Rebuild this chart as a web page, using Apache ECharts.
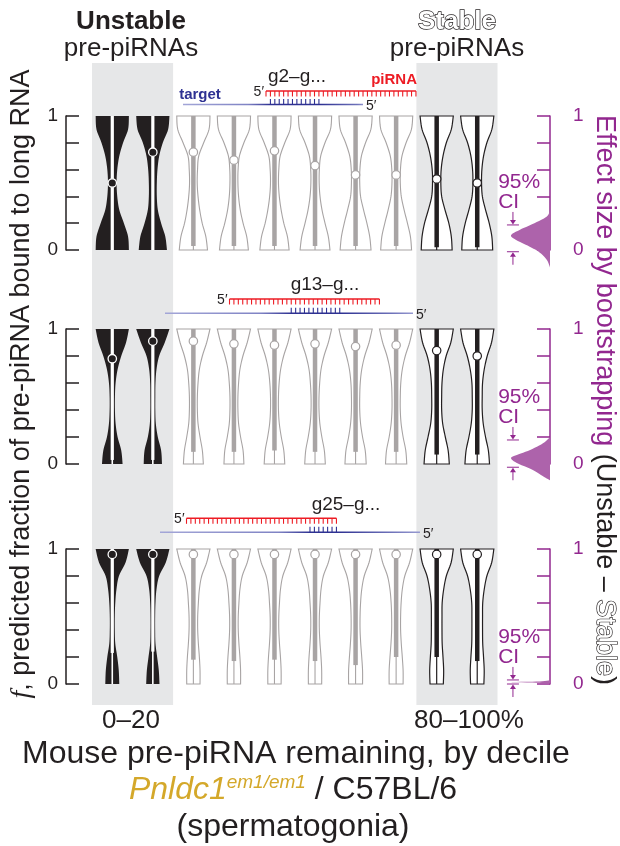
<!DOCTYPE html>
<html>
<head>
<meta charset="utf-8">
<script src="https://cdn.jsdelivr.net/npm/echarts@6/dist/echarts.min.js"></script>
<style>
html, body { margin: 0; padding: 0; background: #fff; }
#chart { width: 620px; height: 846px; }
</style>
</head>
<body>
<div id="chart"></div>
<script>
// ---- data ----
var deciles = ['0–10', '10–20', '20–30', '30–40', '40–50', '50–60', '60–70', '70–80', '80–90', '90–100'];
var groups = ['unstable', 'unstable', 'middle', 'middle', 'middle', 'middle', 'middle', 'middle', 'stable', 'stable'];
var panelLabels = ['g2–g...', 'g13–g...', 'g25–g...'];
// f levels where the violin widths were read (0 -> 1)
var levels = [0, 0.1, 0.2, 0.3, 0.4, 0.5, 0.6, 0.7, 0.8, 0.9, 1];

// g2 panel
var g2Median = [0.50, 0.73, 0.73, 0.67, 0.74, 0.63, 0.56, 0.56, 0.53, 0.50];
var g2Q1 = [0.00, 0.00, 0.03, 0.03, 0.03, 0.03, 0.03, 0.03, 0.02, 0.02];
var g2Q3 = [1, 1, 1, 1, 1, 1, 1, 1, 1, 1];
var g2Width = [
  [1.00, 0.95, 0.70, 0.42, 0.30, 0.26, 0.30, 0.42, 0.65, 0.95, 1.00],
  [0.85, 0.75, 0.50, 0.30, 0.24, 0.24, 0.28, 0.38, 0.60, 0.92, 1.00],
  [0.85, 0.75, 0.53, 0.38, 0.28, 0.23, 0.25, 0.32, 0.62, 0.94, 1.00],
  [0.87, 0.77, 0.55, 0.38, 0.28, 0.24, 0.25, 0.33, 0.60, 0.93, 1.00],
  [0.88, 0.78, 0.56, 0.40, 0.29, 0.24, 0.26, 0.34, 0.62, 0.94, 1.00],
  [0.90, 0.80, 0.60, 0.42, 0.30, 0.25, 0.26, 0.34, 0.60, 0.93, 1.00],
  [0.93, 0.85, 0.68, 0.48, 0.30, 0.25, 0.26, 0.35, 0.60, 0.92, 1.00],
  [0.93, 0.86, 0.68, 0.48, 0.31, 0.25, 0.26, 0.35, 0.60, 0.92, 1.00],
  [0.93, 0.88, 0.73, 0.50, 0.30, 0.25, 0.27, 0.38, 0.58, 0.88, 1.00],
  [0.93, 0.88, 0.72, 0.50, 0.31, 0.26, 0.28, 0.38, 0.58, 0.88, 1.00]
];
var g2EffectF = [0.30, 0.25, 0.20, 0.15, 0.11, 0.075, 0.025, -0.02, -0.075, -0.13];
var g2EffectDensity = [0, 0.08, 0.40, 0.78, 1.00, 0.87, 0.52, 0.26, 0.08, 0];
var g2CI = [-0.013, 0.187];

// g13 panel
var g13Median = [0.78, 0.91, 0.91, 0.89, 0.88, 0.89, 0.87, 0.88, 0.84, 0.80];
var g13Q1 = [0.03, 0.03, 0.09, 0.09, 0.10, 0.09, 0.09, 0.09, 0.07, 0.07];
var g13Q3 = [1, 1, 1, 1, 1, 1, 1, 1, 1, 1];
var g13Width = [
  [0.62, 0.54, 0.32, 0.20, 0.16, 0.16, 0.20, 0.32, 0.54, 0.83, 1.00],
  [0.55, 0.50, 0.30, 0.18, 0.15, 0.15, 0.16, 0.22, 0.38, 0.72, 1.00],
  [0.60, 0.54, 0.40, 0.28, 0.24, 0.24, 0.28, 0.36, 0.54, 0.80, 1.00],
  [0.60, 0.55, 0.40, 0.28, 0.24, 0.24, 0.28, 0.36, 0.54, 0.80, 1.00],
  [0.62, 0.56, 0.41, 0.29, 0.24, 0.24, 0.28, 0.37, 0.55, 0.81, 1.00],
  [0.62, 0.56, 0.41, 0.29, 0.24, 0.24, 0.28, 0.36, 0.54, 0.80, 1.00],
  [0.64, 0.58, 0.42, 0.30, 0.25, 0.25, 0.28, 0.37, 0.55, 0.81, 1.00],
  [0.64, 0.58, 0.42, 0.30, 0.25, 0.25, 0.28, 0.37, 0.55, 0.81, 1.00],
  [0.76, 0.69, 0.52, 0.36, 0.30, 0.30, 0.32, 0.40, 0.57, 0.85, 1.00],
  [0.74, 0.67, 0.50, 0.36, 0.30, 0.30, 0.32, 0.42, 0.60, 0.86, 1.00]
];
var g13EffectF = [0.20, 0.153, 0.104, 0.067, 0.044, 0.007, -0.044, -0.096, -0.12];
var g13EffectDensity = [0, 0.18, 0.51, 0.85, 1.00, 0.85, 0.44, 0.15, 0];
var g13CI = [-0.024, 0.178];

// g25 panel
var g25Median = [0.96, 0.96, 0.96, 0.96, 0.96, 0.96, 0.96, 0.96, 0.96, 0.96];
var g25Q1 = [0.23, 0.24, 0.18, 0.17, 0.18, 0.17, 0.14, 0.20, 0.20, 0.17];
var g25Q3 = [1, 1, 1, 1, 1, 1, 1, 1, 1, 1];
var g25Width = [
  [0.42, 0.39, 0.30, 0.18, 0.15, 0.15, 0.18, 0.25, 0.40, 0.80, 1.00],
  [0.40, 0.36, 0.26, 0.16, 0.14, 0.14, 0.16, 0.22, 0.38, 0.78, 1.00],
  [0.40, 0.40, 0.36, 0.30, 0.26, 0.26, 0.30, 0.36, 0.50, 0.80, 1.00],
  [0.40, 0.40, 0.36, 0.30, 0.26, 0.26, 0.30, 0.36, 0.50, 0.80, 1.00],
  [0.40, 0.40, 0.36, 0.30, 0.26, 0.26, 0.30, 0.36, 0.50, 0.80, 1.00],
  [0.40, 0.40, 0.36, 0.30, 0.26, 0.26, 0.30, 0.36, 0.50, 0.80, 1.00],
  [0.42, 0.42, 0.37, 0.31, 0.27, 0.27, 0.30, 0.37, 0.52, 0.81, 1.00],
  [0.42, 0.42, 0.37, 0.31, 0.27, 0.27, 0.30, 0.37, 0.52, 0.81, 1.00],
  [0.40, 0.42, 0.38, 0.33, 0.32, 0.32, 0.33, 0.42, 0.58, 0.87, 1.00],
  [0.40, 0.42, 0.38, 0.33, 0.32, 0.32, 0.33, 0.42, 0.58, 0.87, 1.00]
];
var g25EffectF = [0.026, 0.018, 0.014, 0.010, 0.003];
var g25EffectDensity = [0, 0.35, 1.00, 0.35, 0];
var g25CI = [0.0, 0.03];

// ---- layout / style ----
var FONT = '"Liberation Sans", Arial, Helvetica, sans-serif';
var INK = '#231f20';
var GREY = '#a8a4a4';
var PURPLE = '#92278f';
var RED = '#ed1c24';
var NAVY = '#2e3192';

var panelTop = [116, 329, 549];
var panelHeight = [134, 135, 135];
var gridLeft = 92, gridWidth = 405.5;
var band = gridWidth / deciles.length;

var kindStyle = {
  unstable: { body: INK, edge: null, edgeW: 0, bar: '#ffffff', whiskerW: 1.6, boxW: 3.2, dot: INK, dotW: 1.3 },
  middle: { body: '#ffffff', edge: GREY, edgeW: 1.1, bar: GREY, whiskerW: 1.1, boxW: 4.5, dot: '#ffffff', dotW: 1.2 },
  stable: { body: '#ffffff', edge: INK, edgeW: 1.2, bar: INK, whiskerW: 1.2, boxW: 4.5, dot: '#ffffff', dotW: 1.2 }
};

// Catmull-Rom through the read-off points, only to draw a smooth outline
function catmull(pts, seg) {
  var out = [], n = pts.length;
  for (var i = 0; i < n - 1; i++) {
    var p0 = pts[Math.max(i - 1, 0)], p1 = pts[i], p2 = pts[i + 1], p3 = pts[Math.min(i + 2, n - 1)];
    for (var t = 0; t < seg; t++) {
      var s = t / seg, s2 = s * s, s3 = s2 * s;
      var pt = [];
      for (var d = 0; d < 2; d++) {
        pt.push(0.5 * (2 * p1[d] + (-p0[d] + p2[d]) * s +
          (2 * p0[d] - 5 * p1[d] + 4 * p2[d] - p3[d]) * s2 +
          (-p0[d] + 3 * p1[d] - 3 * p2[d] + p3[d]) * s3));
      }
      out.push(pt);
    }
  }
  out.push(pts[n - 1].slice());
  return out;
}

function violinRenderer(widths) {
  return function (params, api) {
    var i = api.value(0);
    var st = kindStyle[groups[i]];
    var cx = api.coord([i, 0])[0];
    var half = api.size([1, 0])[0] * 0.41;
    var side = levels.map(function (f, k) {
      return [cx + widths[i][k] * half, api.coord([i, f])[1]];
    });
    var rs = catmull(side, 6);
    var ls = rs.map(function (p) { return [2 * cx - p[0], p[1]]; }).reverse();
    var y0 = api.coord([i, 0])[1], y1 = api.coord([i, 1])[1];
    var ym = api.coord([i, api.value(1)])[1];
    var yq1 = api.coord([i, api.value(2)])[1];
    var yq3 = api.coord([i, api.value(3)])[1];
    return {
      type: 'group',
      children: [
        { type: 'polygon', shape: { points: rs.concat(ls) },
          style: { fill: st.body, stroke: st.edge, lineWidth: st.edgeW } },
        { type: 'line', shape: { x1: cx, y1: y0, x2: cx, y2: y1 },
          style: { stroke: st.bar, lineWidth: st.whiskerW } },
        { type: 'line', shape: { x1: cx, y1: yq1, x2: cx, y2: yq3 },
          style: { stroke: st.bar, lineWidth: st.boxW } },
        { type: 'circle', shape: { cx: cx, cy: ym, r: 4.2 },
          style: { fill: st.dot, stroke: st.bar, lineWidth: st.dotW } }
      ]
    };
  };
}

function effectRenderer(fs, dens, ci) {
  return function (params, api) {
    var edge = fs.map(function (f, k) { return api.coord([dens[k], f]); });
    var contour = catmull(edge, 6);
    var xr = api.coord([0, 0])[0];
    contour.forEach(function (p) { if (p[0] > xr) p[0] = xr; });
    var pts = contour.concat([[xr, contour[contour.length - 1][1]], [xr, contour[0][1]]]);
    var mx = api.coord([0.95, 0])[0];
    var hi = api.coord([0.95, ci[1]])[1];
    var lo = api.coord([0.95, ci[0]])[1];
    var tx = api.coord([1.33, 0])[0];
    var ls = { stroke: PURPLE, lineWidth: 1 };
    return {
      type: 'group',
      children: [
        { type: 'polygon', shape: { points: pts }, style: { fill: '#ad63ab' } },
        { type: 'line', shape: { x1: mx - 6, y1: hi, x2: mx + 6, y2: hi }, style: ls },
        { type: 'line', shape: { x1: mx, y1: hi - 13, x2: mx, y2: hi - 4 }, style: ls },
        { type: 'polygon', shape: { points: [[mx - 3, hi - 5], [mx + 3, hi - 5], [mx, hi - 0.5]] }, style: { fill: PURPLE } },
        { type: 'line', shape: { x1: mx - 6, y1: lo, x2: mx + 6, y2: lo }, style: ls },
        { type: 'line', shape: { x1: mx, y1: lo + 4, x2: mx, y2: lo + 13 }, style: ls },
        { type: 'polygon', shape: { points: [[mx - 3, lo + 5], [mx + 3, lo + 5], [mx, lo + 0.5]] }, style: { fill: PURPLE } },
        { type: 'text', style: { text: '95%', x: tx, y: hi - 43, fill: PURPLE, fontSize: 21, fontFamily: FONT, align: 'left', verticalAlign: 'middle' } },
        { type: 'text', style: { text: 'CI', x: tx, y: hi - 23, fill: PURPLE, fontSize: 21, fontFamily: FONT, align: 'left', verticalAlign: 'middle' } }
      ]
    };
  };
}

function tickLabel(v) { return (v === 0 || v === 1) ? String(v) : ''; }

var panels = [
  { med: g2Median, q1: g2Q1, q3: g2Q3, w: g2Width, ef: g2EffectF, ed: g2EffectDensity, ci: g2CI },
  { med: g13Median, q1: g13Q1, q3: g13Q3, w: g13Width, ef: g13EffectF, ed: g13EffectDensity, ci: g13CI },
  { med: g25Median, q1: g25Q1, q3: g25Q3, w: g25Width, ef: g25EffectF, ed: g25EffectDensity, ci: g25CI }
];

var grid = [], xAxis = [], yAxis = [], series = [];
panels.forEach(function (p, k) {
  grid.push({ left: gridLeft, width: gridWidth, top: panelTop[k], height: panelHeight[k], outerBoundsMode: 'none' });
  grid.push({ left: 511, width: 39, top: panelTop[k], height: panelHeight[k], outerBoundsMode: 'none' });
  xAxis.push({ type: 'category', gridIndex: 2 * k, data: deciles, show: false });
  xAxis.push({ type: 'value', gridIndex: 2 * k + 1, min: 0, max: 1, inverse: true, show: false });
  yAxis.push({
    type: 'value', gridIndex: 2 * k, min: 0, max: 1, interval: 0.2, position: 'left', offset: 26,
    axisLine: { show: true, lineStyle: { color: INK, width: 1.5 } },
    axisTick: { show: true, inside: true, length: 13, lineStyle: { color: INK, width: 1.5 } },
    axisLabel: { formatter: tickLabel, color: INK, fontSize: 19, fontFamily: FONT, margin: 8 },
    splitLine: { show: false }
  });
  yAxis.push({
    type: 'value', gridIndex: 2 * k + 1, min: 0, max: 1, interval: 0.2, position: 'right', offset: 17,
    axisLine: { show: true, lineStyle: { color: PURPLE, width: 1.5 } },
    axisTick: { show: true, inside: true, length: 13, lineStyle: { color: PURPLE, width: 1.5 } },
    axisLabel: { formatter: tickLabel, color: PURPLE, fontSize: 19, fontFamily: FONT, margin: 6 },
    splitLine: { show: false }
  });
  series.push({
    type: 'custom', xAxisIndex: 2 * k, yAxisIndex: 2 * k, silent: true,
    data: deciles.map(function (d, i) { return [i, p.med[i], p.q1[i], p.q3[i]]; }),
    encode: { x: 0, y: 1 },
    renderItem: violinRenderer(p.w)
  });
  series.push({
    type: 'custom', xAxisIndex: 2 * k + 1, yAxisIndex: 2 * k + 1, silent: true, clip: false,
    data: [[0.5, 0.5]],
    encode: { x: 0, y: 1 },
    renderItem: effectRenderer(p.ef, p.ed, p.ci)
  });
});

// ---- annotation graphics ----
function txt(text, x, y, size, extra) {
  var st = { text: text, x: x, y: y, fontSize: size, fontFamily: FONT, fill: INK, align: 'center', verticalAlign: 'middle' };
  for (var key in (extra || {})) st[key] = extra[key];
  return { type: 'text', silent: true, style: st };
}

// piRNA / target pairing cartoon
function cartoon(d) {
  var kids = [];
  var nTeeth = 35, step = 4.41, len = step * (nTeeth - 1);
  kids.push({ type: 'line', shape: { x1: d.piX, y1: d.piY, x2: d.piX + len, y2: d.piY }, style: { stroke: RED, lineWidth: 1.5 } });
  for (var k = 0; k < nTeeth; k++) {
    var x = d.piX + k * step;
    kids.push({ type: 'line', shape: { x1: x, y1: d.piY, x2: x, y2: d.piY + 5.5 }, style: { stroke: RED, lineWidth: 1.1 } });
  }
  var tl = d.tx1 - d.tx0;
  var ps = (d.piX + d.pair[0] * step - d.tx0) / tl;
  var pe = (d.piX + d.pair[1] * step - d.tx0) / tl;
  var stops = [
    { offset: 0, color: '#a4a7d8' },
    { offset: Math.max(0.01, ps - 0.12), color: '#7f83c4' },
    { offset: Math.max(0.02, ps), color: NAVY },
    { offset: Math.min(0.98, pe), color: NAVY },
    { offset: Math.min(0.99, pe + 0.2), color: '#6d71b9' },
    { offset: 1, color: '#9a9dd2' }
  ];
  kids.push({ type: 'line', shape: { x1: d.tx0, y1: d.tY, x2: d.tx1, y2: d.tY },
    style: { stroke: new echarts.graphic.LinearGradient(0, 0, 1, 0, stops), lineWidth: 1.5 } });
  for (var j = d.pair[0]; j <= d.pair[1]; j++) {
    var bx = d.piX + j * step;
    kids.push({ type: 'line', shape: { x1: bx, y1: d.tY - 5.5, x2: bx, y2: d.tY }, style: { stroke: NAVY, lineWidth: 1.1 } });
  }
  kids.push(txt('5′', d.piX - 2, d.piY + 1, 14, { align: 'right' }));
  kids.push(txt('5′', d.tx1 + 3, d.tY + 2, 14, { align: 'left' }));
  kids.push(txt(d.label, d.lx, d.ly, 19));
  return { type: 'group', silent: true, children: kids };
}

var graphics = [];
// shaded decile bands
graphics.push({ type: 'rect', z: -10, silent: true, shape: { x: gridLeft, y: 63, width: band * 2, height: 642 }, style: { fill: '#e6e7e8' } });
graphics.push({ type: 'rect', z: -10, silent: true, shape: { x: gridLeft + band * 8, y: 63, width: band * 2, height: 642 }, style: { fill: '#e6e7e8' } });

graphics.push(cartoon({ piX: 266, piY: 91, tx0: 183, tx1: 363, tY: 104.5, pair: [1, 12], label: panelLabels[0], lx: 297, ly: 77 }));
graphics.push(cartoon({ piX: 229.5, piY: 299, tx0: 165, tx1: 413, tY: 313.3, pair: [14, 25], label: panelLabels[1], lx: 325, ly: 285 }));
graphics.push(cartoon({ piX: 186.5, piY: 518.3, tx0: 160, tx1: 420, tY: 532.3, pair: [28, 34], label: panelLabels[2], lx: 346, ly: 505 }));
graphics.push(txt('piRNA', 417, 80, 15, { fill: RED, fontWeight: 'bold', align: 'right' }));
graphics.push(txt('target', 200, 95, 15, { fill: NAVY, fontWeight: 'bold' }));

// group headers
graphics.push(txt('Unstable', 131, 22, 26, { fontWeight: 'bold' }));
graphics.push(txt('pre-piRNAs', 131, 49, 26));
graphics.push(txt('Stable', 457, 22, 26, { fontWeight: 'bold', fill: '#ffffff', stroke: INK, lineWidth: 1.4 }));
graphics.push(txt('pre-piRNAs', 457, 49, 26));

// decile end labels
graphics.push(txt('0–20', 131, 721, 26));
graphics.push(txt('80–100%', 414, 721, 26, { align: 'left' }));

// x titles
graphics.push(txt('Mouse pre-piRNA remaining, by decile', 296, 754, 32));
graphics.push({
  type: 'text', silent: true,
  style: {
    x: 293, y: 790, align: 'center', verticalAlign: 'middle',
    text: '{i|Pnldc1}{s|em1/em1}{n| / C57BL/6}',
    rich: {
      i: { fontSize: 32, fontStyle: 'italic', fontFamily: FONT, fill: '#d4a82a', lineHeight: 34 },
      s: { fontSize: 19, fontStyle: 'italic', fontFamily: FONT, fill: '#d4a82a', verticalAlign: 'top', lineHeight: 34 },
      n: { fontSize: 32, fontFamily: FONT, fill: INK, lineHeight: 34 }
    }
  }
});
graphics.push(txt('(spermatogonia)', 293, 827, 32));

// left axis name
graphics.push({
  type: 'text', silent: true, x: 22, y: 384, rotation: Math.PI / 2,
  style: {
    x: 0, y: 0, align: 'center', verticalAlign: 'middle',
    text: '{f|f}{n|, predicted fraction of pre-piRNA bound to long RNA}',
    rich: {
      f: { fontSize: 28, fontStyle: 'italic', fontFamily: '"Liberation Serif", "Times New Roman", serif', fill: INK },
      n: { fontSize: 27, fontFamily: FONT, fill: INK }
    }
  }
});
// right axis name
graphics.push({
  type: 'text', silent: true, x: 604, y: 400, rotation: -Math.PI / 2,
  style: {
    x: 0, y: 0, align: 'center', verticalAlign: 'middle',
    text: '{p|Effect size by bootstrapping }{k|(Unstable – }{h|Stable}{k|)}',
    rich: {
      p: { fontSize: 27, fontFamily: FONT, fill: PURPLE },
      k: { fontSize: 27, fontFamily: FONT, fill: INK },
      h: { fontSize: 27, fontFamily: FONT, fill: '#ffffff', stroke: INK, lineWidth: 1.3 }
    }
  }
});

var chart = echarts.init(document.getElementById('chart'));
chart.setOption({
  animation: false,
  backgroundColor: '#ffffff',
  grid: grid,
  xAxis: xAxis,
  yAxis: yAxis,
  series: series,
  graphic: { elements: graphics }
});
</script>
</body>
</html>
